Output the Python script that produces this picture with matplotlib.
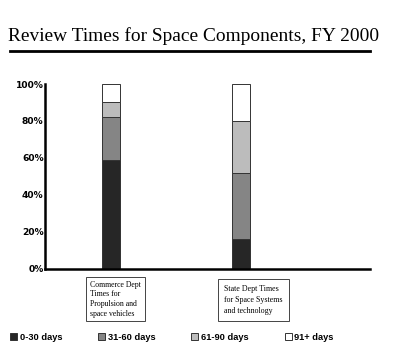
import matplotlib.pyplot as plt
from matplotlib.lines import Line2D
import numpy as np

groups = ["Commerce Dept\nTimes for\nPropulsion and\nspace vehicles",
          "State Dept Times\nfor Space Systems\nand technology"]
series = ["0-30 days", "31-60 days", "61-90 days", "91+ days"]
d0_30 = [59, 16]
d31_60 = [23, 36]
d61_90 = [8, 28]
d91 = [10, 20]
colors = ["#262626", "#858585", "#bcbcbc", "#ffffff"]

fig = plt.figure(figsize=(4, 3.56), dpi=100)
ax = fig.add_axes([0.1125, 0.2452, 0.8125, 0.5188])

x = np.arange(len(groups))
bottom = np.zeros(len(groups))
handles = []
for vals, c, lab in zip([d0_30, d31_60, d61_90, d91], colors, series):
    b = ax.bar(x, vals, 0.138, bottom=bottom, color=c, edgecolor="#333333",
               linewidth=0.7, label=lab)
    bottom += np.array(vals)
    handles.append(b)

ax.set_xlim(-0.508, 1.992)
ax.set_ylim(0, 100)
ax.set_yticks([0, 20, 40, 60, 80, 100])
ax.set_yticklabels([f"{v}%" for v in [0, 20, 40, 60, 80, 100]],
                   family=["Liberation Sans Narrow", "DejaVu Sans"],
                   fontweight="bold", fontsize=6.6)
ax.tick_params(axis="y", length=0, pad=1)
ax.set_xticks([])
for s in ["top", "right"]:
    ax.spines[s].set_visible(False)
ax.spines["left"].set_linewidth(1.8)
ax.spines["bottom"].set_linewidth(1.8)

# group labels in boxes
box_x = [90 / 400, 224 / 400]
box_y = [1 - 281 / 356, 1 - 285 / 356]
box_fs = [5.6, 5.7]
box_pad = [0.5, 0.8]
box_ls = [1.25, 1.5]
for g, bx, by, fs, pd_, ls in zip(groups, box_x, box_y, box_fs, box_pad, box_ls):
    fig.text(bx, by, g, ha="left", va="top", fontsize=fs,
             family="Liberation Serif", linespacing=ls,
             bbox=dict(boxstyle=f"square,pad={pd_}", fc="white", ec="#444444", lw=0.7))

# title and rule
fig.text(8 / 400, 1 - 41 / 356, "Review Times for Space Components, FY 2000",
         ha="left", va="baseline", fontsize=13.95, family="Liberation Serif")
fig.add_artist(Line2D([10 / 400, 370 / 400], [1 - 51 / 356, 1 - 51 / 356],
                      color="black", lw=2))

fig.legend(handles=handles, loc="center left", bbox_to_anchor=(0.025, 1 - 337 / 356),
           ncol=4, frameon=False, prop=dict(family="Liberation Sans", weight="bold", size=6.7),
           handlelength=0.75, handleheight=0.75, handletextpad=0.3, columnspacing=3.85,
           borderpad=0, borderaxespad=0)

fig.savefig("out.png", dpi=100)
